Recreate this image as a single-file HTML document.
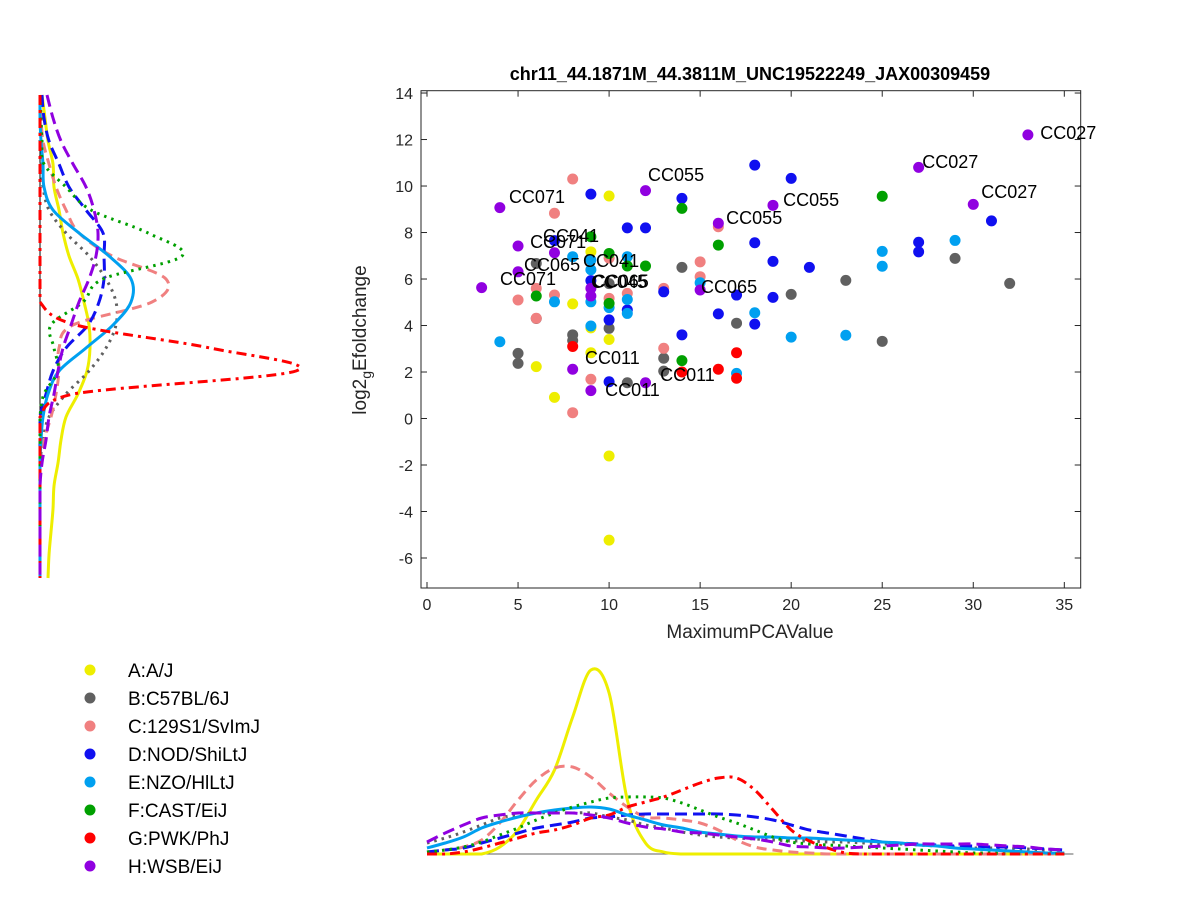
<!DOCTYPE html>
<html><head><meta charset="utf-8"><style>
html,body{margin:0;padding:0;background:#fff;}
svg{display:block;font-family:"Liberation Sans",Arial,sans-serif;}
</style></head><body>
<svg id="fig" width="1200" height="900" viewBox="0 0 1200 900" xmlns="http://www.w3.org/2000/svg">
<rect width="1200" height="900" fill="#fff"/>
<g id="main"></g>
<g id="left"></g>
<g id="bottom"></g>
<g id="legend"></g>
</svg>
<script>
// ---- data ----
const groupNames = ["A:A/J","B:C57BL/6J","C:129S1/SvImJ","D:NOD/ShiLtJ","E:NZO/HlLtJ","F:CAST/EiJ","G:PWK/PhJ","H:WSB/EiJ"];
const xA=[10,9,8,9,10,9,6,7,10,10];
const yA=[9.57,7.17,4.93,3.9,3.4,2.83,2.23,0.91,-1.61,-5.23];
const xB=[6,14,10,6,10,8,8,5,5,13,13,11,17,20,23,32,29,25];
const yB=[6.67,6.5,5.8,4.3,3.88,3.6,3.35,2.8,2.37,2.59,2.04,1.54,4.1,5.34,5.94,5.81,6.89,3.32];
const xC=[8,7,16,10,15,15,6,5,7,10,11,13,6,13,9,8];
const yC=[10.3,8.83,8.25,6.9,6.74,6.1,5.6,5.1,5.31,5.17,5.38,5.6,4.31,3.02,1.69,0.25];
const xD=[9,14,18,20,11,12,7,18,9,11,13,17,16,18,10,14,10,31,27,27,19,21,19];
const yD=[9.65,9.47,10.9,10.33,8.2,8.2,7.65,7.56,5.93,4.67,5.45,5.31,4.5,4.06,4.24,3.6,1.58,8.5,7.58,7.17,6.76,6.5,5.21];
const xE=[11,8,9,9,15,7,9,10,11,11,18,4,9,17,29,25,25,20,23];
const yE=[6.96,6.96,6.82,6.4,5.84,5.02,5.02,4.77,5.12,4.52,4.55,3.3,3.98,1.94,7.66,7.19,6.55,3.5,3.58];
const xF=[14,16,9,10,11,12,6,10,14,25];
const yF=[9.04,7.46,7.82,7.1,6.56,6.56,5.27,4.95,2.49,9.56];
const xG=[8,14,16,17,17];
const yG=[3.1,2.0,2.12,2.83,1.73];
const xH=[12,4,16,5,7,5,15,3,9,9,8,9,12,33,27,30,19];
const yH=[9.8,9.07,8.4,7.42,7.13,6.31,5.53,5.63,5.6,5.27,2.12,1.2,1.54,12.2,10.8,9.21,9.17];

const labelText=["CC027","CC027","CC027","CC055","CC055","CC055","CC071","CC071","CC041","CC065","CC071","CC041","CC045","CC065","CC065","CC011","CC011","CC011"];
const labelX=[33.68,27.2,30.44,12.14,19.56,16.43,4.5,5.66,6.37,5.33,4.01,8.57,9.01,9.1,15.05,8.68,12.8,9.78];
const labelY=[12.28,11.03,9.74,10.47,9.4,8.62,9.53,7.59,7.85,6.6,6.0,6.77,5.87,5.9,5.66,2.6,1.87,1.23];

const xTicks=[0,5,10,15,20,25,30,35];
const yTicks=[-6,-4,-2,0,2,4,6,8,10,12,14];

// marginal density readings (y-marginal sampled at y=14..-7, x-marginal at x=0..35)
const leftGrid=[14,13,12,11,10,9,8,7,6,5,4,3,2,1,0,-1,-2,-3,-4,-5,-6,-7];
const leftA=[2,5,8,13,14,19,23,29,38,44,49,50,47,38,26,21,18,14,13,11,9,8];
const leftB=[0,0,0,1,3,9,26,49,66,76,76,66,49,26,9,3,0,0,0,0,0,0];
const leftC=[0,1,3,9,16,26,39,72,126,112,33,19,19,16,11,4,0,0,0,0,0,0];
const leftD=[2,4,9,19,29,46,63,64,64,59,48,26,13,6,0,0,0,0,0,0,0,0];
const leftE=[0,0,1,3,4,13,39,69,91,91,73,46,19,8,3,1,0,0,0,0,0,0];
const leftF=[0,1,2,4,26,51,108,142,63,43,11,14,18,4,0,0,0,0,0,0,0,0];
const leftG=[0,0,0,0,0,0,0,0,0,0,36,170,256,33,0,0,0,0,0,0,0,0];
const leftH=[7,13,21,33,46,54,58,56,49,39,31,23,18,14,9,6,2,0,0,0,0,0];

const botGrid=[0,1,2,3,4,5,6,7,8,9,10,11,12,13,14,15,16,17,18,19,20,21,22,23,24,25,26,27,28,29,30,31,32,33,34,35];
const botA=[0,0,0,0,7,24,54,84,137,184,161,54,11,2,0,0,0,0,0,0,0,0,0,0,0,0,0,0,0,0,0,0,0,0,0,0];
const botB=[11,16,22,29,36,39,41,41,41,41,37,34,29,26,22,19,17,16,15,14,13,13,12,12,11,10,10,9,8,7,6,6,5,5,4,4];
const botC=[2,4,7,14,31,54,74,86,87,77,61,47,37,36,34,31,24,14,7,4,2,1,0,0,0,0,0,0,0,0,0,0,0,0,0,0];
const botD=[2,4,6,11,16,21,26,29,32,36,37,39,40,40,40,40,40,39,37,34,29,24,21,18,15,12,11,10,9,8,8,7,7,6,5,4];
const botE=[6,11,17,26,32,37,41,44,46,47,45,39,34,29,26,22,20,18,17,17,16,16,15,14,13,12,11,9,8,6,5,4,3,2,1,1];
const botF=[2,4,7,12,19,26,34,41,47,52,56,57,57,56,51,44,37,31,24,17,12,10,9,8,7,6,5,4,3,2,1,1,0,0,0,0];
const botG=[0,0,2,6,11,16,21,24,29,36,39,47,52,57,64,71,76,76,64,44,24,13,6,1,0,0,0,0,0,0,0,0,0,0,0,0];
const botH=[12,21,29,36,39,41,41,41,41,39,36,31,27,25,22,21,19,17,15,12,8,7,6,6,7,8,9,10,10,10,10,9,8,7,5,4];

// ---- styles ----
const colors=["#eeee00","#606060","#f08080","#1010f0","#00a0f0","#00a000","#ff0000","#9000e0"];
const dashes=["none","2.5,5","10,6","12,6","none","2.5,5","10,5,3,5","12,6"];
const groupX=[xA,xB,xC,xD,xE,xF,xG,xH], groupY=[yA,yB,yC,yD,yE,yF,yG,yH];
const leftD8=[leftA,leftB,leftC,leftD,leftE,leftF,leftG,leftH];
const botD8=[botA,botB,botC,botD,botE,botF,botG,botH];

const NS="http://www.w3.org/2000/svg";
function mk(tag,attrs,parent){const e=document.createElementNS(NS,tag);for(const k in attrs)e.setAttribute(k,attrs[k]);parent.appendChild(e);return e;}

// axes scales
const X0=421,X1=1080.7,Y0=90.7,Y1=588;
const xmin=-0.33,xmax=35.9,ymin=-7.29,ymax=14.1;
const sx=v=>X0+(v-xmin)/(xmax-xmin)*(X1-X0);
const sy=v=>Y1-(v-ymin)/(ymax-ymin)*(Y1-Y0);

const main=document.getElementById('main');
const box=mk('rect',{x:X0,y:Y0,width:X1-X0,height:Y1-Y0,fill:'none',stroke:'#262626','stroke-width':1},main);



xTicks.forEach(t=>{
  const px=sx(t);
  const g=mk('g',{},main);
  
  
  mk('line',{x1:px,x2:px,y1:Y1,y2:Y1-6,stroke:'#262626'},g);
  mk('line',{x1:px,x2:px,y1:Y0,y2:Y0+6,stroke:'#262626'},g);
  const tx=mk('text',{x:px,y:Y1+22,'text-anchor':'middle','font-size':16,fill:'#262626'},g);
  tx.textContent=t;
});
yTicks.forEach(t=>{
  const py=sy(t);
  const g=mk('g',{},main);
  
  
  mk('line',{x1:X0,x2:X0+6,y1:py,y2:py,stroke:'#262626'},g);
  mk('line',{x1:X1,x2:X1-6,y1:py,y2:py,stroke:'#262626'},g);
  const tx=mk('text',{x:X0-8,y:py+6,'text-anchor':'end','font-size':16,fill:'#262626'},g);
  tx.textContent=t;
});

const title=mk('text',{x:750,y:80,'text-anchor':'middle','font-size':18,'font-weight':'bold',fill:'#000'},main);
title.textContent="chr11_44.1871M_44.3811M_UNC19522249_JAX00309459";



const xl=mk('text',{x:750,y:638,'text-anchor':'middle','font-size':19,fill:'#262626'},main);
xl.textContent="MaximumPCAValue";



const yl=mk('text',{x:0,y:0,'text-anchor':'middle','font-size':19,fill:'#262626',transform:'translate(366,340) rotate(-90)'},main);


const t1=mk('tspan',{},yl);t1.textContent="log2";
const t2=mk('tspan',{dy:5,'font-size':14},yl);t2.textContent="g";
const t3=mk('tspan',{dy:-5},yl);t3.textContent="Efoldchange";

// points
groupX.forEach((xs,gi)=>{
  const g=mk('g',{},main);
  
  
  xs.forEach((xv,i)=>{
    const c=mk('circle',{cx:sx(xv),cy:sy(groupY[gi][i]),r:5.5,fill:colors[gi]},g);
    
    
  });
});
// labels
labelText.forEach((s,i)=>{
  const t=mk('text',{x:sx(labelX[i]),y:sy(labelY[i])+6,'font-size':18,fill:'#000'},main);
  t.textContent=s;
  
  
});

// smooth path helper with clamping of control points
function smooth(pts,clamp){
  let d='M'+pts[0][0].toFixed(1)+','+pts[0][1].toFixed(1);
  for(let i=0;i<pts.length-1;i++){
    const p0=pts[Math.max(0,i-1)],p1=pts[i],p2=pts[i+1],p3=pts[Math.min(pts.length-1,i+2)];
    const c1=clamp([p1[0]+(p2[0]-p0[0])/6,p1[1]+(p2[1]-p0[1])/6]);
    const c2=clamp([p2[0]-(p3[0]-p1[0])/6,p2[1]-(p3[1]-p1[1])/6]);
    d+='C'+c1[0].toFixed(1)+','+c1[1].toFixed(1)+' '+c2[0].toFixed(1)+','+c2[1].toFixed(1)+' '+p2[0].toFixed(1)+','+p2[1].toFixed(1);
  }
  return d;
}

// left marginal
const left=document.getElementById('left');
const LX=40, LT=95, LB=578, lyr=[14,-7];
const ly=v=>LT+(lyr[0]-v)/(lyr[0]-lyr[1])*(LB-LT);
const lx=d=>LX+d;
const lbase=mk('line',{x1:LX,x2:LX,y1:LT,y2:LB,stroke:'#000','stroke-width':1},left);


leftD8.forEach((arr,gi)=>{
  const pts=arr.map((d,i)=>[lx(d),ly(leftGrid[i])]);
  const p=mk('path',{d:smooth(pts,c=>[Math.max(LX,c[0]),c[1]]),fill:'none',stroke:colors[gi],'stroke-width':3,'stroke-dasharray':dashes[gi]},left);
  
  
});

// bottom marginal
const bottom=document.getElementById('bottom');
const BB=854;
const by=d=>BB-d;
const bbase=mk('line',{x1:sx(0),x2:sx(35.5),y1:BB,y2:BB,stroke:'#606060','stroke-width':1},bottom);


botD8.forEach((arr,gi)=>{
  const pts=arr.map((d,i)=>[sx(botGrid[i]),by(d)]);
  const p=mk('path',{d:smooth(pts,c=>[c[0],Math.min(BB,c[1])]),fill:'none',stroke:colors[gi],'stroke-width':3,'stroke-dasharray':dashes[gi]},bottom);
  
  
});

// legend
const legend=document.getElementById('legend');
groupNames.forEach((n,i)=>{
  const g=mk('g',{},legend);
  
  
  const yy=670+i*28;
  mk('circle',{cx:90,cy:yy,r:5.5,fill:colors[i]},g);
  const t=mk('text',{x:128,y:yy+7,'font-size':19,fill:'#000'},g);
  t.textContent=n;
});
</script>
</body></html>
